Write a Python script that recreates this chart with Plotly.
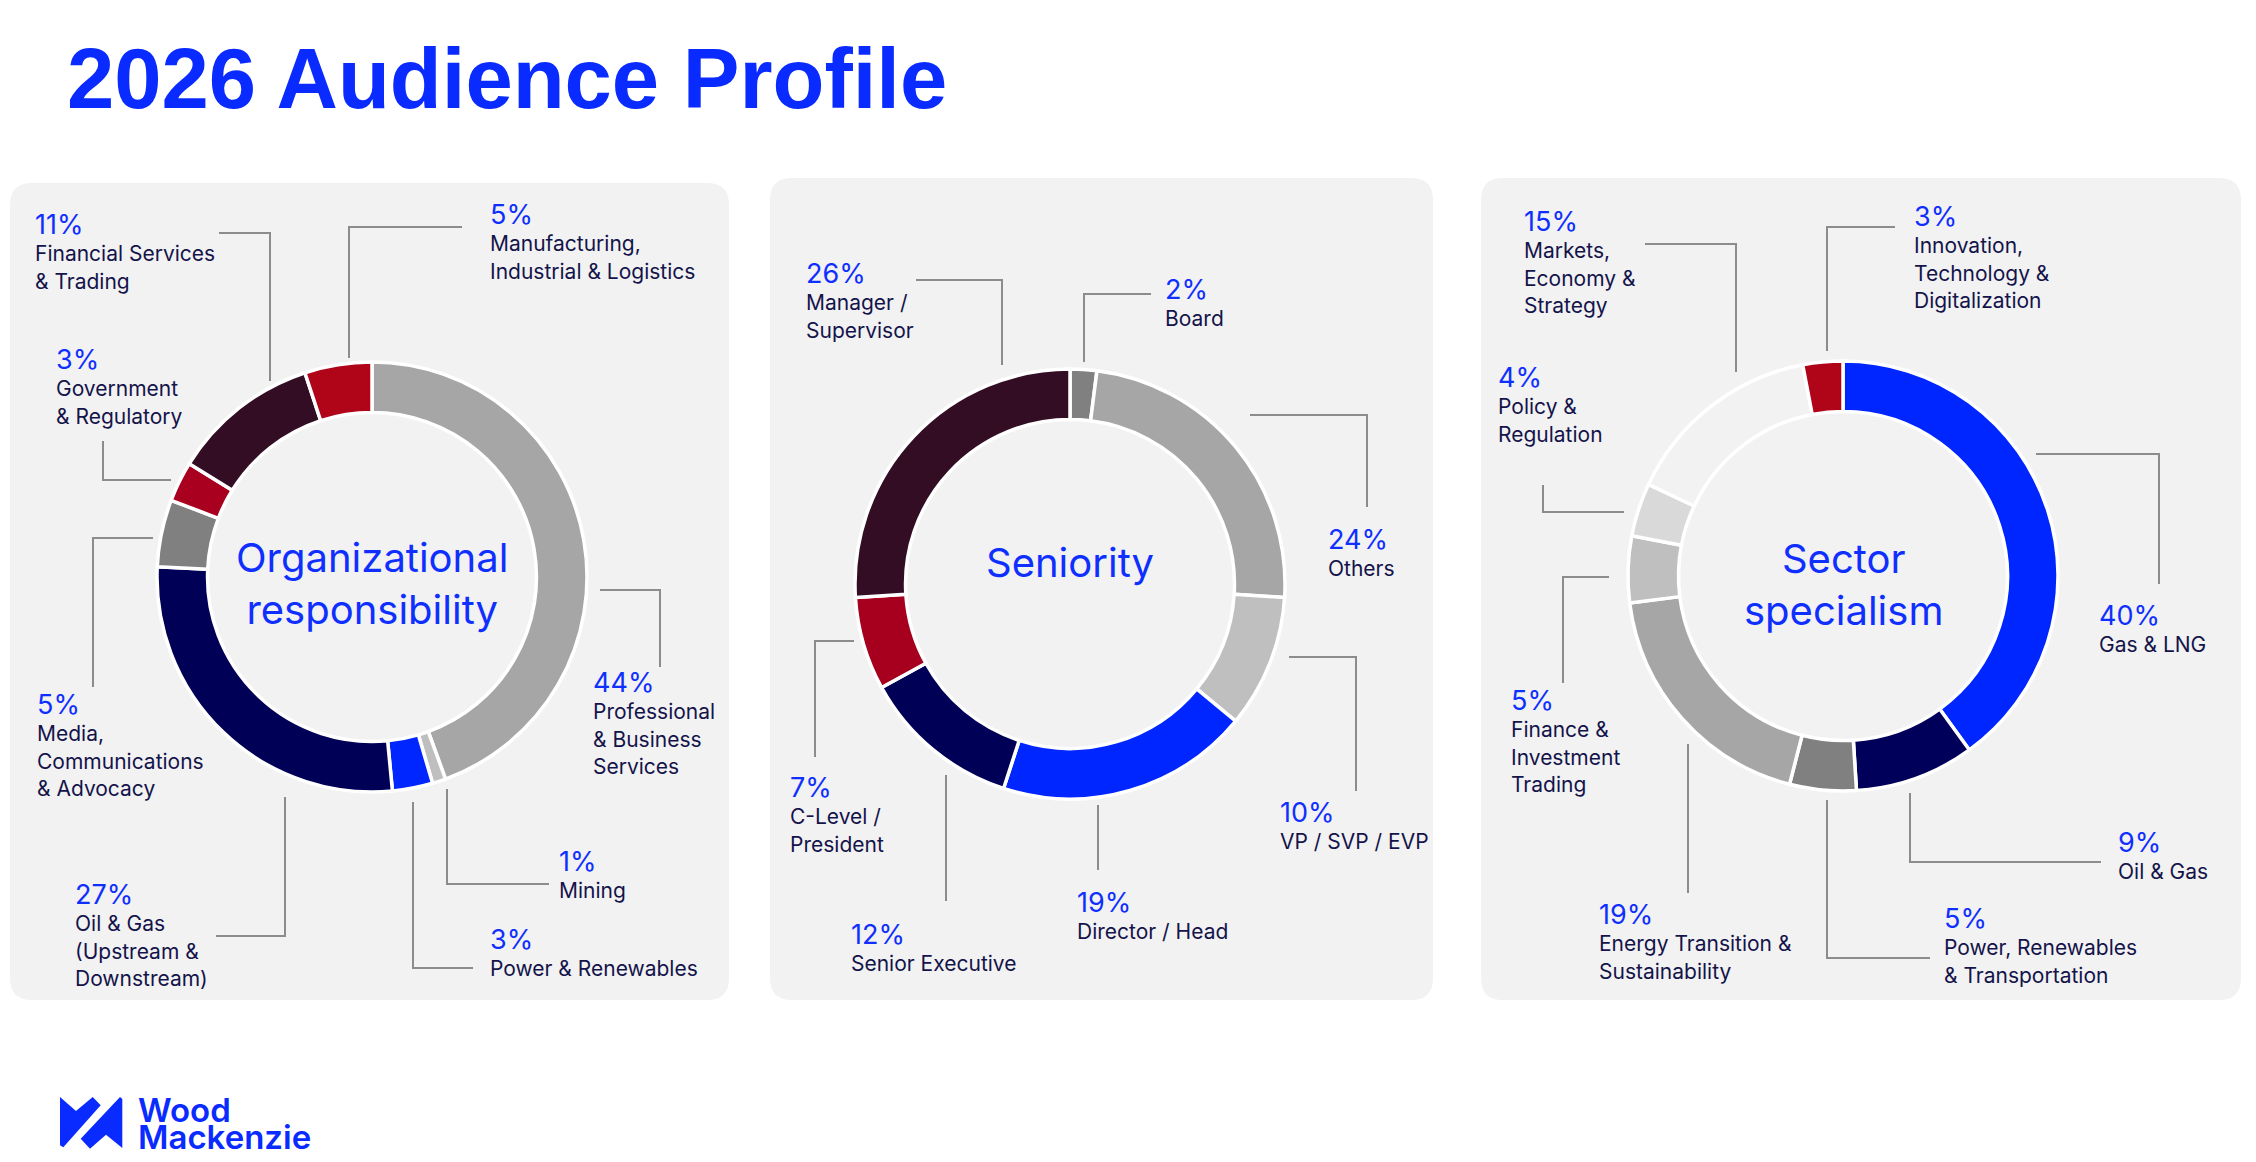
import plotly.graph_objects as go

W, H = 2256, 1162

# ---- data ----
org_names = ["Professional<br>& Business<br>Services", "Mining", "Power & Renewables",
             "Oil & Gas<br>(Upstream &<br>Downstream)", "Media,<br>Communications<br>& Advocacy",
             "Government<br>& Regulatory", "Financial Services<br>& Trading",
             "Manufacturing,<br>Industrial & Logistics"]
org_values = [44, 1, 3, 27, 5, 3, 11, 5]

sen_names = ["Board", "Others", "VP / SVP / EVP", "Director / Head", "Senior Executive",
             "C-Level /<br>President", "Manager /<br>Supervisor"]
sen_values = [2, 24, 10, 19, 12, 7, 26]

sec_names = ["Gas & LNG", "Oil & Gas", "Power, Renewables<br>& Transportation",
             "Energy Transition &<br>Sustainability", "Finance &<br>Investment<br>Trading",
             "Policy &<br>Regulation", "Markets,<br>Economy &<br>Strategy",
             "Innovation,<br>Technology &<br>Digitalization"]
sec_values = [40, 9, 5, 19, 5, 4, 15, 3]

# ---- styles ----
BLUE = "#0026ff"
TXT_BLUE = "#0f2fff"
NAVY_TXT = "#14144b"
LINE = "#8c8c8c"
PANEL = "#f2f2f2"

org_colors = ["#a6a6a6", "#bfbfbf", BLUE, "#000057", "#808080", "#a8001e", "#330d24", "#b00419"]
sen_colors = ["#808080", "#a6a6a6", "#bfbfbf", BLUE, "#000057", "#a6001e", "#330d24"]
sec_colors = [BLUE, "#00005a", "#808080", "#a6a6a6", "#bfbfbf", "#d9d9d9", PANEL, "#b00419"]

# label anchor (left x, top of percent glyphs) in pixels
org_pos = [(593, 672), (559, 851), (490, 929), (75, 884), (37, 694), (56, 349), (35, 214), (490, 204)]
sen_pos = [(1165, 279), (1328, 529), (1280, 802), (1077, 892), (851, 924), (790, 777), (806, 264)]
sec_pos = [(2099, 605), (2118, 832), (1944, 908), (1599, 904), (1511, 690), (1498, 367), (1524, 211), (1914, 206)]

org_leaders = [[(660, 667), (660, 590), (600, 590)], [(549, 884), (447, 884), (447, 789)],
               [(473, 968), (413, 968), (413, 802)], [(216, 936), (285, 936), (285, 797)],
               [(93, 687), (93, 538), (153, 538)], [(103, 441), (103, 480), (171, 480)],
               [(219, 233), (270, 233), (270, 381)], [(462, 227), (349, 227), (349, 358)]]
sen_leaders = [[(1151, 294), (1084, 294), (1084, 362)], [(1367, 507), (1367, 415), (1250, 415)],
               [(1356, 791), (1356, 657), (1289, 657)], [(1098, 870), (1098, 805)],
               [(946, 901), (946, 775)], [(815, 757), (815, 641), (854, 641)],
               [(916, 280), (1002, 280), (1002, 365)]]
sec_leaders = [[(2159, 584), (2159, 454), (2036, 454)], [(2101, 862), (1910, 862), (1910, 793)],
               [(1930, 958), (1827, 958), (1827, 800)], [(1688, 893), (1688, 744)],
               [(1563, 683), (1563, 577), (1609, 577)], [(1543, 485), (1543, 512), (1624, 512)],
               [(1645, 244), (1736, 244), (1736, 372)], [(1895, 227), (1827, 227), (1827, 351)]]


def X(p):
    return p / W


def Y(p):
    return 1 - p / H


def path(pts):
    return "M " + " L ".join(f"{X(x):.5f},{Y(y):.5f}" for x, y in pts)


def rrect(x0, y0, x1, y1, r):
    P = lambda x, y: f"{X(x):.5f},{Y(y):.5f}"
    return (f"M {P(x0 + r, y0)} L {P(x1 - r, y0)} Q {P(x1, y0)} {P(x1, y0 + r)} "
            f"L {P(x1, y1 - r)} Q {P(x1, y1)} {P(x1 - r, y1)} L {P(x0 + r, y1)} "
            f"Q {P(x0, y1)} {P(x0, y1 - r)} L {P(x0, y0 + r)} Q {P(x0, y0)} {P(x0 + r, y0)} Z")


fig = go.Figure()
shapes = []
annotations = []

panels = [
    dict(names=org_names, values=org_values, colors=org_colors, pos=org_pos, leaders=org_leaders,
         center=(372, 577), rect=(10, 183, 729, 1000),
         title="Organizational<br>responsibility", ty=583),
    dict(names=sen_names, values=sen_values, colors=sen_colors, pos=sen_pos, leaders=sen_leaders,
         center=(1070, 584), rect=(770, 178, 1433, 1000), title="Seniority", ty=562),
    dict(names=sec_names, values=sec_values, colors=sec_colors, pos=sec_pos, leaders=sec_leaders,
         center=(1843, 576), rect=(1481, 178, 2241, 1000), title="Sector<br>specialism", ty=584),
]

R = 215
for p in panels:
    cx, cy = p["center"]
    shapes.append(dict(type="path", path=rrect(*p["rect"], 22), xref="paper", yref="paper",
                       fillcolor=PANEL, line=dict(width=0), layer="below"))
    fig.add_trace(go.Pie(
        labels=p["names"], values=p["values"], sort=False, direction="clockwise", rotation=0,
        hole=0.765, textinfo="none", hoverinfo="skip", showlegend=False,
        marker=dict(colors=p["colors"], line=dict(color="white", width=3.5)),
        domain=dict(x=[X(cx - R), X(cx + R)], y=[Y(cy + R), Y(cy - R)]),
    ))
    annotations.append(dict(x=X(cx), y=Y(p["ty"]), xref="paper", yref="paper", text=p["title"],
                            showarrow=False, xanchor="center", yanchor="middle",
                            font=dict(family="Inter", size=40, color=TXT_BLUE)))
    for name, val, (lx, ltop), pts in zip(p["names"], p["values"], p["pos"], p["leaders"]):
        annotations.append(dict(
            x=X(lx), y=Y(ltop - 6.5), xref="paper", yref="paper", showarrow=False,
            xanchor="left", yanchor="top", align="left", borderpad=0, borderwidth=0,
            text=f"<span style='font-size:27px;color:{TXT_BLUE}'>{val}%</span><br>{name}",
            font=dict(family="Inter", size=21, color=NAVY_TXT)))
        shapes.append(dict(type="path", path=path(pts), xref="paper", yref="paper",
                           line=dict(color=LINE, width=2)))

# title
annotations.append(dict(x=X(65), y=Y(29), xref="paper", yref="paper", showarrow=False,
                        xanchor="left", yanchor="top", text="<b>2026 Audience Profile</b>",
                        font=dict(family="Liberation Sans", size=85, color="#0a2bff")))

# logo: one block, tight line spacing via small base font
annotations.append(dict(x=X(137), y=Y(1089), xref="paper", yref="paper", showarrow=False,
                        xanchor="left", yanchor="top", align="left", borderpad=0,
                        text="<span style='font-size:33px'>Wood</span><br>"
                             "<span style='font-size:33px'>Mackenzie</span>",
                        font=dict(family="Inter", size=21, color="#0a2bff", weight=600)))
logo_left = [(60, 1097), (76, 1111), (92.7, 1097), (100.7, 1105.3), (63.3, 1147.3), (60, 1145.3)]
logo_right = [(120, 1097), (122.3, 1099), (122.3, 1148), (106, 1134.7), (90, 1148.7), (80.7, 1138.7)]
for pts in (logo_left, logo_right):
    shapes.append(dict(type="path", path=path(pts) + " Z", xref="paper", yref="paper",
                       fillcolor="#0a2bff", line=dict(width=0)))

fig.update_layout(
    width=W, height=H, margin=dict(l=0, r=0, t=0, b=0),
    paper_bgcolor="white", plot_bgcolor="white",
    shapes=shapes, annotations=annotations,
)

fig.write_html("out.html", config={"displayModeBar": False},
               post_script="document.body.style.margin='0';document.body.style.overflow='hidden';")
